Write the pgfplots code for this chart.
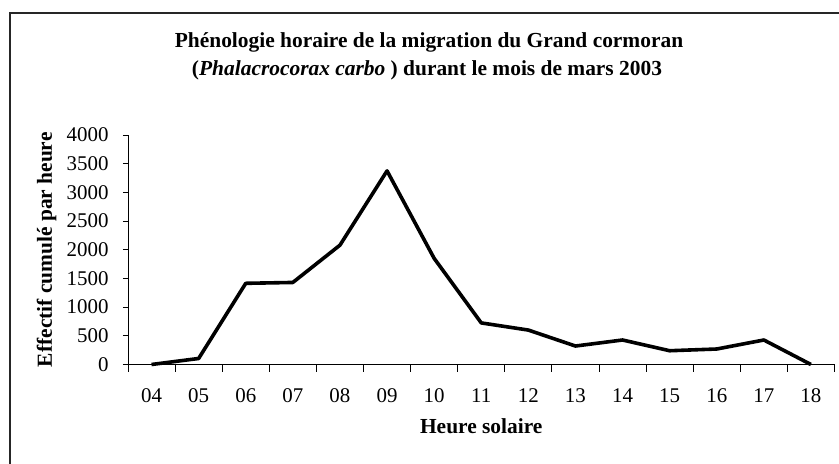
\documentclass[border=0pt]{standalone}
\usepackage{fontspec}
\setmainfont{Liberation Serif}
\usepackage{pgfplots}
\pgfplotsset{compat=1.18}
\begin{document}
\begin{tikzpicture}
\useasboundingbox (0,0) rectangle (839bp,464bp);
\clip (0,0) rectangle (839bp,464bp);
\draw[black!85, line width=1.2bp] (10bp,-5bp) -- (10bp,451bp) -- (900bp,451bp);
\node[anchor=base, font=\fontsize{21.5}{26}\selectfont\bfseries] at (429bp,416bp) {Phénologie horaire de la migration du Grand cormoran};
\node[anchor=base, font=\fontsize{21.5}{26}\selectfont\bfseries] at (427bp,388bp) {(\textit{Phalacrocorax carbo} ) durant le mois de mars 2003};
\begin{axis}[
  at={(128bp,99.5bp)}, anchor=south west,
  scale only axis, width=706.5bp, height=229.5bp,
  xmin=-0.5, xmax=14.5, ymin=0, ymax=4000,
  axis x line*=bottom, axis y line*=left,
  axis line style={black, line width=0.9bp},
  xtick={0,...,14},
  xticklabels={04,05,06,07,08,09,10,11,12,13,14,15,16,17,18},
  major x tick style={draw=none},
  minor xtick={-0.5,0.5,...,14.5},
  minor x tick style={black, line width=0.9bp},
  minor tick length=7bp,
  ytick={0,500,...,4000},
  y tick style={black, line width=0.9bp},
  major tick length=5bp,
  tick align=outside,
  scaled y ticks=false,
  yticklabel style={/pgf/number format/fixed, /pgf/number format/1000 sep={}},
  /pgf/number format/assume math mode=true,
  tick label style={font=\fontsize{21}{24}\selectfont},
  xticklabel style={anchor=base, yshift=-33bp},
  yticklabel style={anchor=east, xshift=-11bp},
  xlabel={Heure solaire},
  ylabel={Effectif cumulé par heure},
  label style={font=\fontsize{21.5}{26}\selectfont\bfseries},
  xlabel style={at={(axis description cs:0.5,-0.3028)}, anchor=base},
  ylabel style={at={(axis description cs:-0.1076,0.5)}, anchor=base, rotate=0},
  clip=false,
]
\addplot[black, line width=3.6bp, line join=round] coordinates {
(0,0) (1,105) (2,1415) (3,1430) (4,2080) (5,3375) (6,1850) (7,725) (8,600) (9,322) (10,427) (11,240) (12,270) (13,427) (14,0)
};
\end{axis}
\end{tikzpicture}
\end{document}
